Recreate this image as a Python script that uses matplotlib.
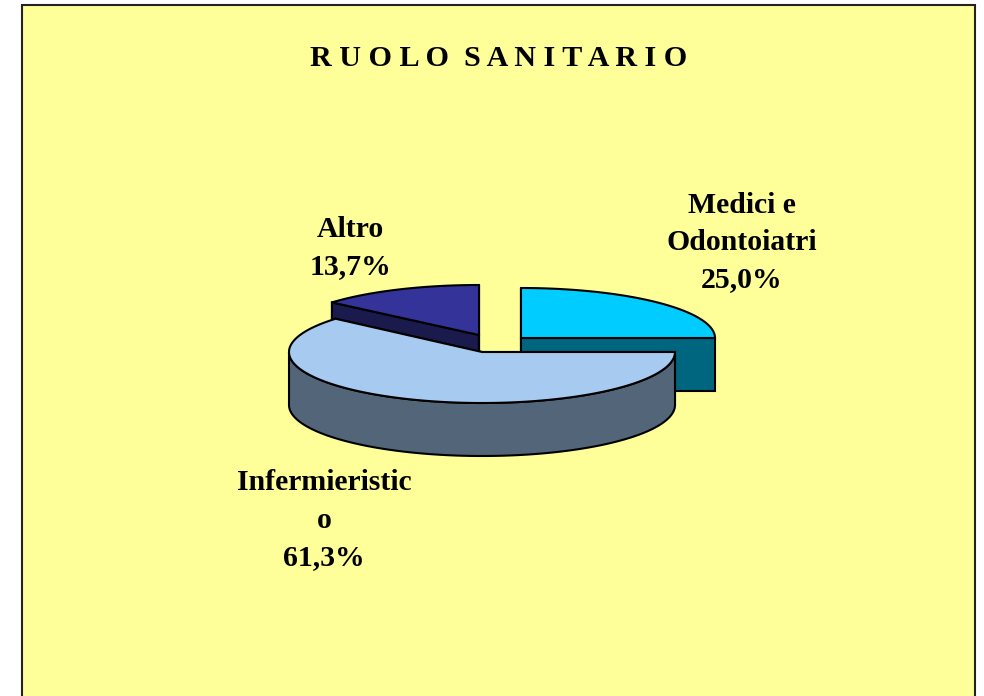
import numpy as np
import matplotlib.pyplot as plt
from matplotlib.patches import Polygon, Rectangle

# values
labels = ['Medici e\nOdontoiatri\n25,0%', 'Infermieristic\no\n61,3%', 'Altro\n13,7%']
values = [25.0, 61.3, 13.7]
top_colors = ['#00CCFF', '#A6CAF0', '#333399']
side_colors = ['#006680', '#536579', '#1A1A4D']
title = 'R U O L O  S A N I T A R I O'

# pie centres in pixels, one for each slice because they are pulled out
centres = [(521, 338), (482, 352), (479, 335)]
radii = [(194, 50), (193, 51), (194, 50)]
depth = 53
label_pos = [(742, 242.5), (324, 520), (350, 248.5)]

W, H = 984, 696
fig = plt.figure(figsize=(W / 100, H / 100), dpi=100, facecolor='white')
ax = fig.add_axes([0, 0, 1, 1])
ax.set_xlim(0, W)
ax.set_ylim(H, 0)
ax.axis('off')

ax.add_patch(Rectangle((22, 5), 953, 720, facecolor='#FFFF99', edgecolor='#222222', lw=1.5))


def arc(c, r, a0, a1, dy=0):
    t = np.radians(np.linspace(a0, a1, 200))
    return np.column_stack([c[0] + r[0] * np.cos(t), c[1] - r[1] * np.sin(t) + dy])


def draw_slice(i, a0, a1):
    # a0 > a1, going clockwise
    c, r = centres[i], radii[i]
    top = arc(c, r, a0, a1)
    # cut faces
    for a in (a0, a1):
        e = arc(c, r, a, a)[0]
        face = [c, e, (e[0], e[1] + depth), (c[0], c[1] + depth)]
        ax.add_patch(Polygon(face, facecolor=side_colors[i], edgecolor='black', lw=1.5))
    # outer wall, only the front part shows
    lo, hi = max(a1, -180), min(a0, 0)
    if lo < hi:
        front = arc(c, r, hi, lo)
        wall = np.vstack([front, front[::-1] + [0, depth]])
        ax.add_patch(Polygon(wall, facecolor=side_colors[i], edgecolor='black', lw=1.5))
    ax.add_patch(Polygon(np.vstack([[c], top]), facecolor=top_colors[i], edgecolor='black', lw=1.5))


fracs = np.array(values) / sum(values) * 360
starts = 90 - np.concatenate([[0], np.cumsum(fracs)[:-1]])
for i in [2, 0, 1]:
    draw_slice(i, starts[i], starts[i] - fracs[i])

for lab, (x, y) in zip(labels, label_pos):
    ax.text(x, y, lab, ha='center', va='center', family='Liberation Serif', weight='bold',
            fontsize=21.4, linespacing=1.48, color='black')

ax.text(499, 58.5, title, ha='center', va='center', family='Liberation Serif', weight='bold',
        fontsize=21.7, color='black')

fig.savefig('out.png', dpi=100)
